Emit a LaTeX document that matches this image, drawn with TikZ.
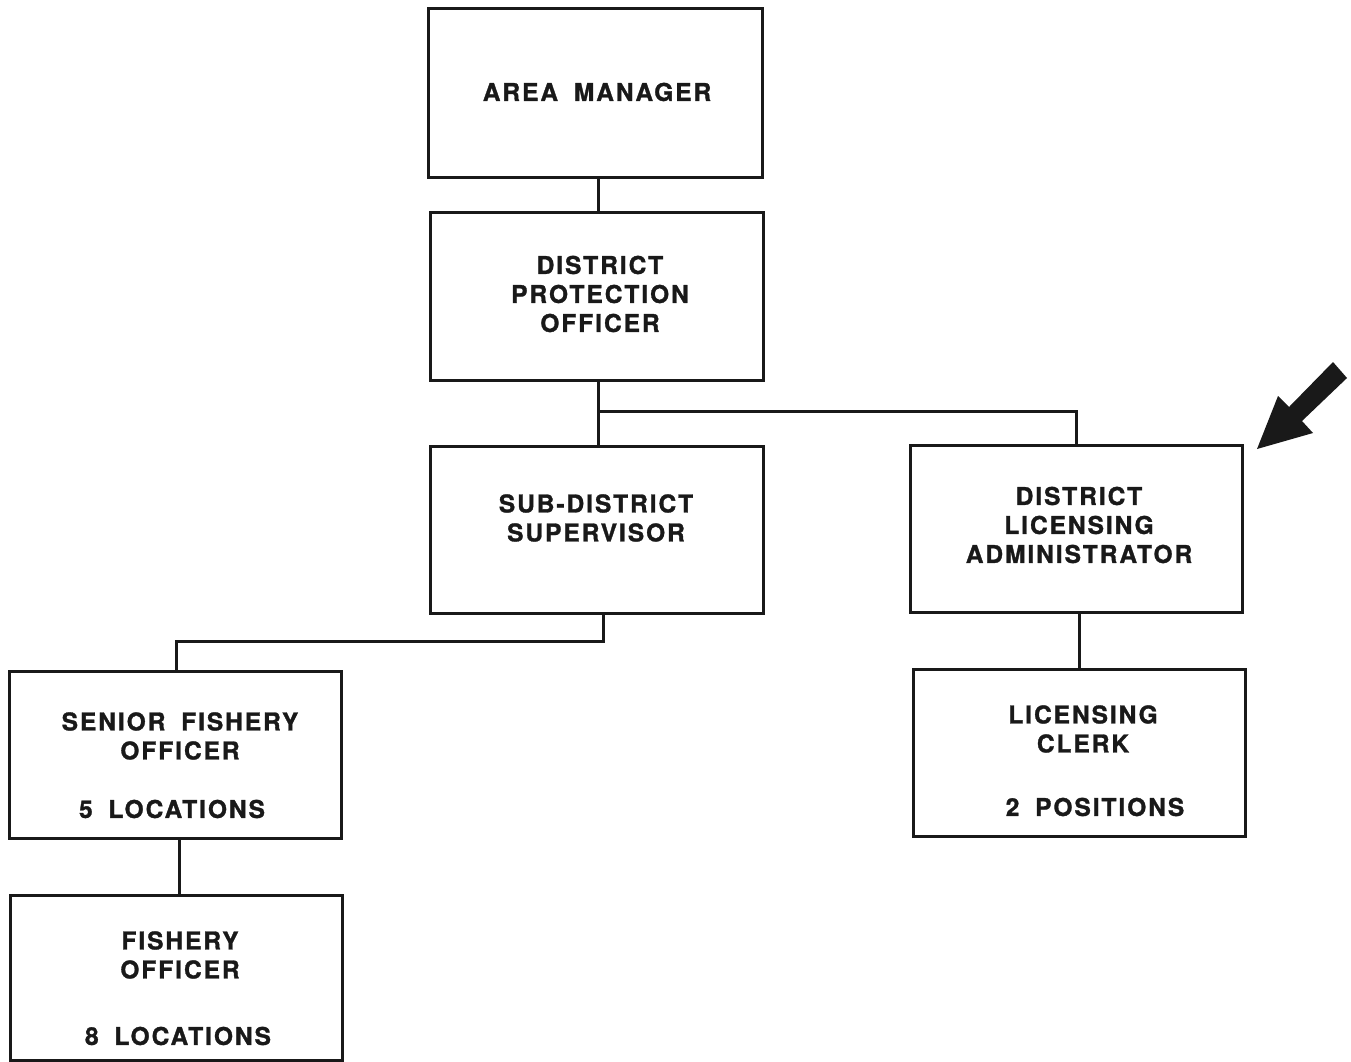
\documentclass[tikz,border=0pt]{standalone}
\usepackage{fontspec}
\setmainfont{TeX Gyre Heros}[LetterSpace=8, WordSpace=1.8, BoldFeatures={FakeBold=1.2}]
\begin{document}
\begin{tikzpicture}[x=1pt,y=-1pt,
  post/.style={draw=black!90, line width=3pt, rectangle, inner sep=0pt},
  lbl/.style={font=\fontsize{24.5}{29}\selectfont\bfseries, align=center, text=black!90, inner sep=0pt},
  wire/.style={draw=black!90, line width=3pt}]
\useasboundingbox (0,0) rectangle (1351,1062);

% boxes
\node[post, minimum width=334pt, minimum height=168pt] (am)  at (595,93) {};
\node[post, minimum width=333pt, minimum height=168pt] (dpo) at (596.5,296) {};
\node[post, minimum width=333pt, minimum height=167pt] (sds) at (596.5,529.5) {};
\node[post, minimum width=332pt, minimum height=167pt] (dla) at (1076,528.5) {};
\node[post, minimum width=332pt, minimum height=167pt] (sfo) at (175,754.5) {};
\node[post, minimum width=332pt, minimum height=167pt] (lc)  at (1079,752.5) {};
\node[post, minimum width=332pt, minimum height=165pt] (fo)  at (176,977.5) {};

% titles
\node[lbl] (am-t)  at (597,92)  {AREA MANAGER};
\node[lbl] (dpo-t) at (600,294) {DISTRICT\\PROTECTION\\OFFICER};
\node[lbl] (sds-t) at (596,518) {SUB-DISTRICT\\SUPERVISOR};
\node[lbl] (dla-t) at (1079,525) {DISTRICT\\LICENSING\\ADMINISTRATOR};
\node[lbl] (sfo-t) at (180,736) {SENIOR FISHERY\\OFFICER};
\node[lbl] (sfo-n) at (172,809) {5 LOCATIONS};
\node[lbl] (lc-t)  at (1083,729) {LICENSING\\CLERK};
\node[lbl] (lc-n)  at (1095,807) {2 POSITIONS};
\node[lbl] (fo-t)  at (180,955) {FISHERY\\OFFICER};
\node[lbl] (fo-n)  at (178,1036) {8 LOCATIONS};

% connectors
\coordinate (j1) at (598,411);
\coordinate (j2) at (603,641);
\draw[wire] (am.south -| 598,0) -- (dpo.north -| 598,0);
\draw[wire] (dpo.south -| j1) -- (sds.north -| j1);
\draw[wire] (j1) -| (dla.north -| 1076,0);
\draw[wire] (sds.south -| j2) -- (j2) -| (sfo.north -| 176,0);
\draw[wire] (sfo.south -| 179,0) -- (fo.north -| 179,0);
\draw[wire] (dla.south -| 1079,0) -- (lc.north -| 1079,0);

% pointer arrow
\fill[black!90] (1333,362) -- (1289,407) -- (1278,396) -- (1257,449)
  -- (1313,433) -- (1302,421) -- (1347,378) -- cycle;
\end{tikzpicture}
\end{document}
